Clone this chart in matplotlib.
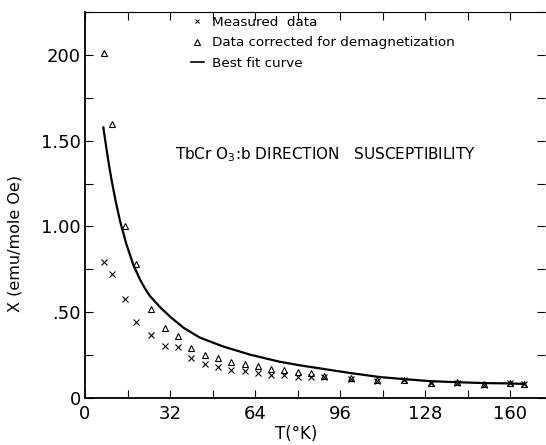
"""TbCrO3 b-direction susceptibility vs temperature."""

import matplotlib
matplotlib.use("Agg")
import matplotlib.pyplot as plt
from matplotlib.lines import Line2D
from matplotlib.ticker import MultipleLocator, FixedLocator, FixedFormatter

# temperatures (K) of the data points
temp = [7, 10, 15, 19, 25, 30, 35, 40, 45, 50, 55, 60, 65, 70, 75, 80, 85, 90,
        100, 110, 120, 130, 140, 150, 160, 165]
measured = [0.79, 0.72, 0.575, 0.445, 0.37, 0.305, 0.30, 0.233, 0.20, 0.18, 0.165,
            0.155, 0.146, 0.135, 0.135, 0.124, 0.12, 0.12, 0.11, 0.10, 0.103,
            0.085, 0.089, 0.077, 0.085, 0.08]
corrected = [2.01, 1.60, 1.00, 0.78, 0.52, 0.41, 0.36, 0.29, 0.25, 0.233, 0.21,
             0.197, 0.188, 0.167, 0.166, 0.152, 0.148, 0.13, 0.114, 0.103, 0.106,
             0.087, 0.091, 0.079, 0.087, 0.082]

# best fit curve
temp_fit = [6.9, 8.0, 9.0, 10.0, 11.5, 13.2, 15.5, 18.2, 20.7, 22.5, 24.4, 28.2,
            32, 37, 43.2, 52, 58, 62, 73, 81, 100, 111, 120, 130, 140, 150, 160, 165]
fit = [1.577, 1.46, 1.36, 1.27, 1.15, 1.03, 0.90, 0.775, 0.69, 0.64, 0.595, 0.53,
       0.474, 0.41, 0.352, 0.30, 0.272, 0.253, 0.212, 0.19, 0.145, 0.122, 0.11,
       0.098, 0.092, 0.087, 0.085, 0.082]

y_ticks = [0, 0.5, 1.0, 1.5, 2.0]
y_labels = ["0", ".50", "1.00", "1.50", "200"]
x_ticks = [0, 32, 64, 96, 128, 160]

fig = plt.figure(figsize=(5.46, 4.45), dpi=100)
ax = fig.add_axes([85 / 546, 47 / 445, 460 / 546, 386 / 445])

ax.plot(temp_fit, fit, color="black", lw=1.6, zorder=2)
ax.plot(temp, measured, ls="none", marker="x", ms=3.8, mew=0.8, color="black", zorder=3)
ax.plot(temp, corrected, ls="none", marker="^", ms=5, mew=0.8, mfc="none", mec="black", zorder=3)

ax.set_xlim(0, 173)
ax.set_ylim(0, 2.25)

ax.xaxis.set_major_locator(FixedLocator(x_ticks))
ax.xaxis.set_minor_locator(MultipleLocator(16))
ax.yaxis.set_major_locator(FixedLocator(y_ticks))
ax.yaxis.set_major_formatter(FixedFormatter(y_labels))
ax.yaxis.set_minor_locator(MultipleLocator(0.25))
ax.tick_params(which="both", direction="in", top=True, right=True, length=6,
               width=0.8, labelsize=13, colors="black")
ax.tick_params(axis="x", pad=5)
ax.tick_params(axis="y", pad=3)

for side in ["left", "bottom"]:
    ax.spines[side].set_linewidth(1.3)
ax.spines["top"].set_linewidth(0.8)
ax.spines["right"].set_visible(False)

ax.set_xlabel("T(°K)", fontsize=12)
ax.xaxis.set_label_coords(0.46, -0.07)
ax.set_ylabel("X (emu/mole Oe)", fontsize=11.5)
ax.yaxis.set_label_coords(-0.135, 0.40)

ax.text(0.196, 0.63, "TbCr O$_3$:b DIRECTION   SUSCEPTIBILITY", transform=ax.transAxes,
        fontsize=11, va="center", ha="left")

handles = [
    Line2D([], [], ls="none", marker="x", ms=3.5, mew=0.8, color="black"),
    Line2D([], [], ls="none", marker="^", ms=4.5, mew=0.8, mfc="none", mec="black"),
    Line2D([], [], color="black", lw=1.2),
]
labels = ["Measured  data", "Data corrected for demagnetization", "Best fit curve"]
ax.legend(handles, labels, loc="upper left", bbox_to_anchor=(0.215, 1.007), frameon=False,
          handlelength=1.0, handletextpad=0.6, labelspacing=0.55, borderaxespad=0.1,
          prop={"size": 9.7})

fig.savefig("out.png", dpi=100)
